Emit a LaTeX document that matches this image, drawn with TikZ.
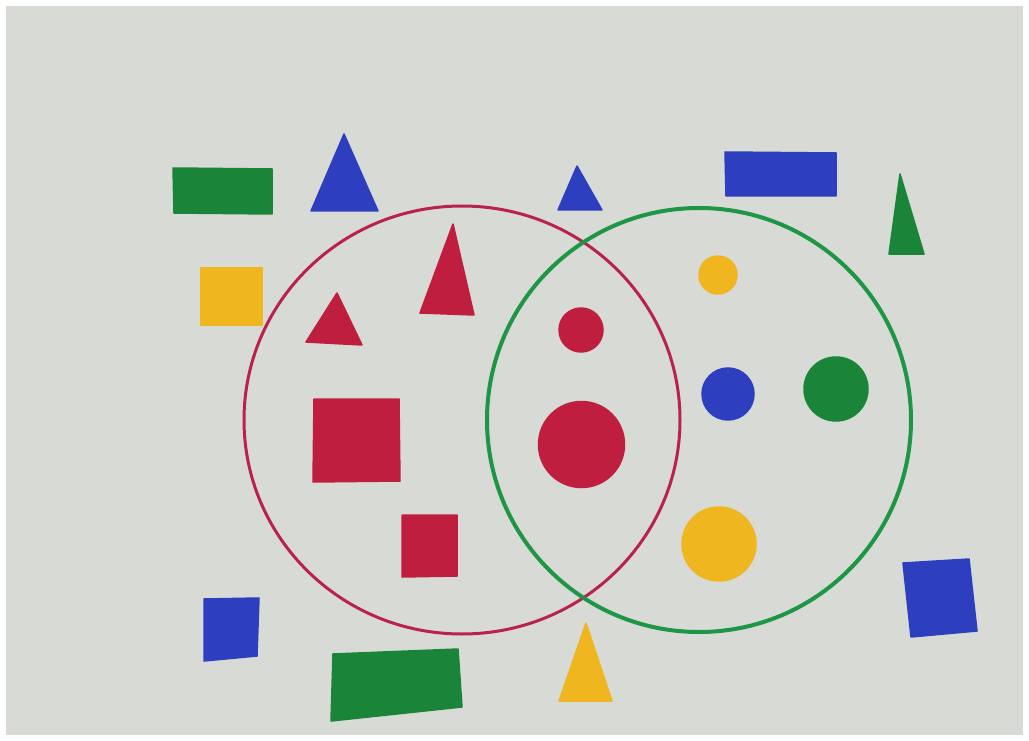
\documentclass[tikz,border=0pt]{standalone}
\definecolor{paper}{RGB}{216,218,213}
\definecolor{mred}{RGB}{192,30,62}
\definecolor{mredline}{RGB}{185,35,75}
\definecolor{mblue}{RGB}{45,62,190}
\definecolor{mgreen}{RGB}{26,132,56}
\definecolor{mgreenline}{RGB}{30,150,70}
\definecolor{myellow}{RGB}{240,182,32}
\tikzset{
  shp/.style={line width=1.5pt, line join=round},
  redf/.style={shp, fill=mred, draw=mred},
  bluef/.style={shp, fill=mblue, draw=mblue},
  greenf/.style={shp, fill=mgreen, draw=mgreen},
  yellowf/.style={shp, fill=myellow, draw=myellow},
  redset/.style={draw=mredline, line width=3pt},
  greenset/.style={draw=mgreenline, line width=4pt}
}
\begin{document}
\begin{tikzpicture}[x=1pt,y=-1pt]
\useasboundingbox (0,0) rectangle (1029,741);
\fill[white] (0,0) rectangle (1029,741);
\fill[paper] (6,6) rectangle (1023,735);
% sets
\draw[redset] (462,420) ellipse [x radius=218, y radius=214];
\draw[greenset] (699,420) ellipse [x radius=212, y radius=212];
% outside top
\filldraw[greenf] (173,168) -- (272,169) -- (272,214) -- (174,213) -- cycle;
\filldraw[bluef] (344,134) -- (378,211) -- (311,211) -- cycle;
\filldraw[bluef] (577,166) -- (602,210) -- (558,210) -- cycle;
\filldraw[bluef] (725,152) -- (836,153) -- (836,196) -- (726,196) -- cycle;
\filldraw[greenf] (900,174) -- (924,254) -- (889,254) -- cycle;
\filldraw[yellowf] (201,268) -- (262,268) -- (262,325) -- (201,325) -- cycle;
% inside red
\filldraw[redf] (337,293) -- (362,345) -- (306,342) -- cycle;
\filldraw[redf] (453,224) -- (474,315) -- (420,313) -- cycle;
\filldraw[redf] (314,399) -- (399,399) -- (400,481) -- (313,482) -- cycle;
\filldraw[redf] (402,515) -- (457,515) -- (457,576) -- (402,577) -- cycle;
% intersection
\filldraw[redf] (581,330) circle [radius=22];
\filldraw[redf] (581.5,444.5) circle [radius=43];
% inside green
\filldraw[yellowf] (718,275) circle [radius=19];
\filldraw[bluef] (728,394) circle [radius=26];
\filldraw[greenf] (836,389) circle [radius=32];
\filldraw[yellowf] (719,544) circle [radius=37];
% outside bottom
\filldraw[bluef] (903,563) -- (969,559) -- (977,631) -- (911,637) -- cycle;
\filldraw[bluef] (204,599) -- (259,598) -- (257,656) -- (204,661) -- cycle;
\filldraw[greenf] (333,654) -- (458,649) -- (462,707) -- (331,721) -- cycle;
\filldraw[yellowf] (586,623) -- (612,701) -- (559,701) -- cycle;
\end{tikzpicture}
\end{document}
